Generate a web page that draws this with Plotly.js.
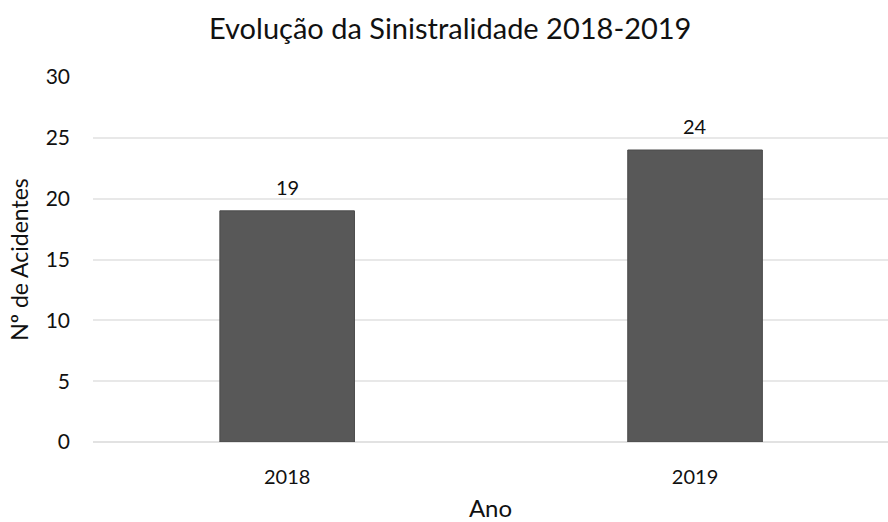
<!DOCTYPE html>
<html><head><meta charset="utf-8">
<script src="https://cdn.plot.ly/plotly-3.0.1.min.js"></script>
<style>html,body{margin:0;padding:0;background:#fff}</style>
</head><body>
<div id="chart" style="width:888px;height:522px"></div>
<script>
const years = ['2018', '2019'];
const accidents = [19, 24];
const yTicks = [0, 5, 10, 15, 20, 25, 30];

const trace = {
  type: 'bar',
  x: years,
  y: accidents,
  width: 0.33,
  marker: {color: '#585858', line: {color: '#4a4a4a', width: 1}},
  hoverinfo: 'skip'
};

const labels = years.map((yr, i) => ({
  xref: 'x', yref: 'y',
  x: i, y: accidents[i], text: String(accidents[i]),
  showarrow: false, yanchor: 'middle', yshift: 24,
  font: {family: 'Lato, sans-serif', size: 20, color: '#111'}
}));

const layout = {
  width: 888, height: 522,
  margin: {l: 93, r: 0, t: 77, b: 80},
  paper_bgcolor: '#fff', plot_bgcolor: '#fff',
  font: {family: 'Lato, sans-serif', color: '#111'},
  title: {text: 'Evolução da Sinistralidade 2018-2019', font: {size: 29, color: '#111'}, x: 0.507, xanchor: 'center', y: 0.945, yanchor: 'middle'},
  xaxis: {type: 'category', range: [-0.476, 1.473], showgrid: false, zeroline: false, showline: false,
          tickfont: {size: 20, color: '#111'}, ticks: '', ticklabelstandoff: 21,
          title: {text: 'Ano', font: {size: 24, color: '#111'}, standoff: 14}},
  yaxis: {range: [0, 30], tickvals: yTicks, showgrid: true, gridcolor: '#e8e8e8', gridwidth: 2,
          zeroline: true, zerolinecolor: '#e2e2e2', zerolinewidth: 2,
          tickfont: {size: 21, color: '#111'}, ticklabelstandoff: 22,
          title: {text: 'Nº de Acidentes', font: {size: 23, color: '#111'}, standoff: 10}},
  annotations: labels,
  showlegend: false
};

Plotly.newPlot('chart', [trace], layout, {staticPlot: true, displayModeBar: false});
</script>
</body></html>
